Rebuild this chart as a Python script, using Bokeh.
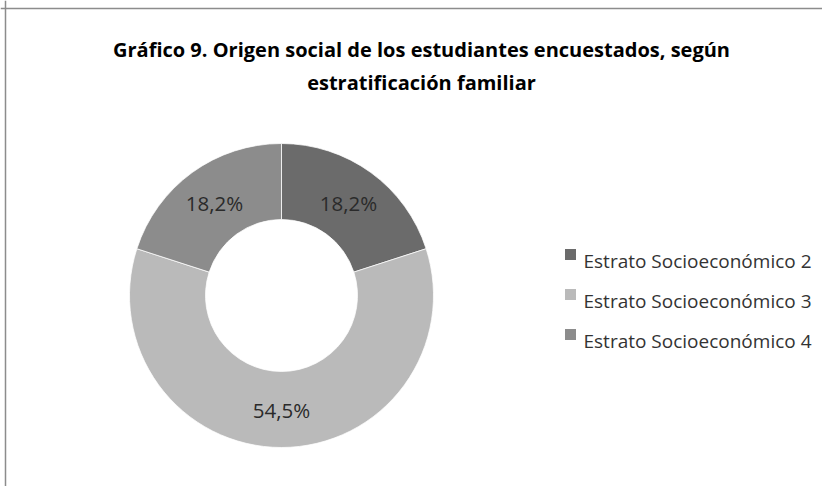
import numpy as np
from bokeh.plotting import figure
from bokeh.models import Range1d, Span
from bokeh.core.properties import value
from bokeh.embed import file_html
from bokeh.resources import INLINE

# ---- data ----
categories = ["Estrato Socioeconómico 2", "Estrato Socioeconómico 3", "Estrato Socioeconómico 4"]
percentages = [18.2, 54.5, 18.2]
pct_labels = ["18,2%", "54,5%", "18,2%"]
colors = ["#6b6b6b", "#bababa", "#8c8c8c"]
title_lines = ["Gráfico 9. Origen social de los estudiantes encuestados, según",
               "estratificación familiar"]

# ---- layout (picture-pixel coordinates, y negated) ----
W, H = 822, 486
CX, CY = 281, -295
R_OUT, R_IN = 152, 76
FONT = "Open Sans"

p = figure(width=W, height=H, x_range=Range1d(0, W), y_range=Range1d(-H, 0),
           output_backend="svg", toolbar_location=None, min_border=0,
           x_axis_type=None, y_axis_type=None)
p.grid.visible = False
p.outline_line_color = None
p.title.visible = False
p.background_fill_color = "white"
p.border_fill_color = "white"

# frame (left and top edges visible in reference)
p.add_layout(Span(location=5, dimension="height", line_color="#8c8c8c", line_width=1.5))
p.add_layout(Span(location=-8, dimension="width", line_color="#8c8c8c", line_width=1.5))

vals = np.array(percentages, dtype=float)
frac = vals / vals.sum()
cum = np.concatenate([[0.0], np.cumsum(frac)])
start = np.pi / 2 - 2 * np.pi * cum[:-1]
end = np.pi / 2 - 2 * np.pi * cum[1:]

p.annular_wedge(x=CX, y=CY, inner_radius=R_IN, outer_radius=R_OUT,
                start_angle=list(start), end_angle=list(end), direction="clock",
                fill_color=colors, line_color="white", line_width=0.75)

mid = (start + end) / 2
rl = (R_IN + R_OUT) / 2
p.text(x=list(CX + rl * np.cos(mid)), y=list(CY + rl * np.sin(mid)), text=pct_labels,
       text_font=value(FONT), text_font_size="20.5px", text_color="#2a2a2a",
       text_align="center", text_baseline="middle")

# title
p.text(x=[421, 421], y=[-49, -82], text=title_lines, text_font=value(FONT),
       text_font_size="20px", text_font_style="bold", text_color="#000000",
       text_align="center", text_baseline="alphabetic")

# legend
n = len(categories)
base = [-(260 + 40 * i) for i in range(n)]
p.scatter(x=[570] * n, y=[b + 6 for b in base], marker="square", size=11,
          fill_color=colors, line_color=None)
p.text(x=[583] * n, y=base, text=categories, text_font=value(FONT), text_font_size="19px",
       text_color="#333333", text_align="left", text_baseline="alphabetic")

open("out.html", "w").write(file_html(p, INLINE))
